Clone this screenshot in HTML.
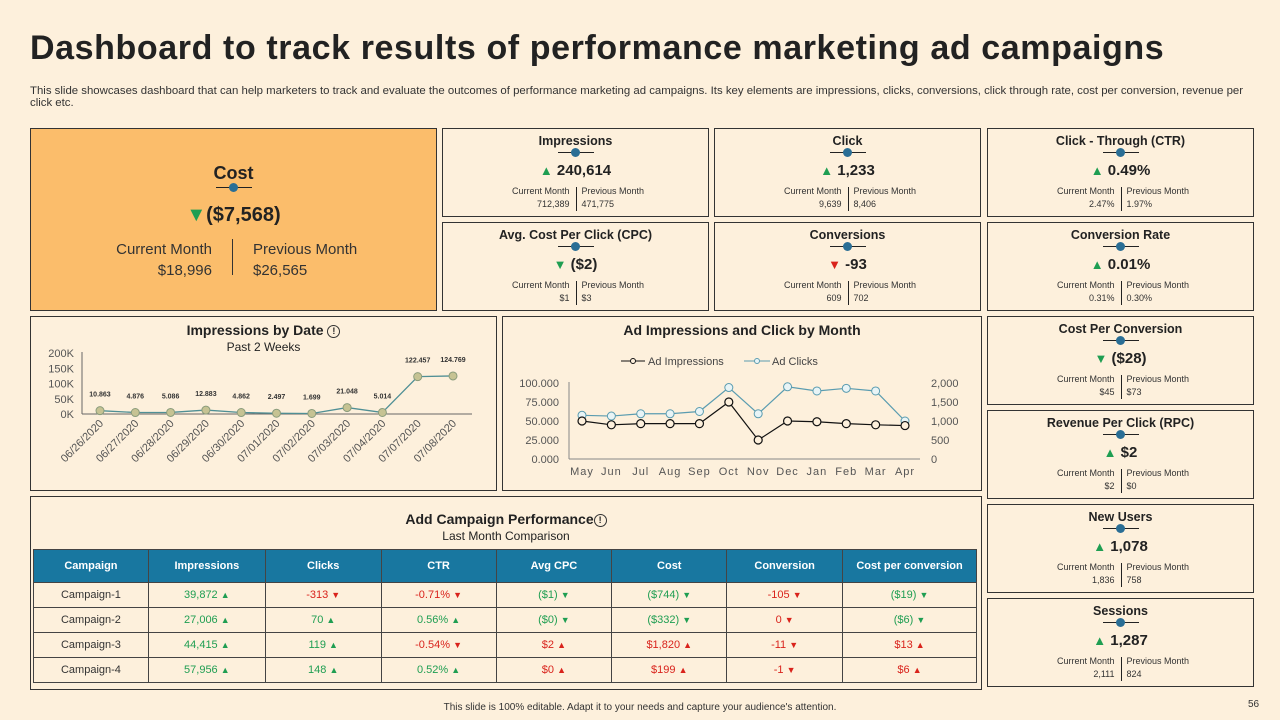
<!DOCTYPE html>
<html><head><meta charset="utf-8">
<style>
*{box-sizing:border-box;margin:0;padding:0}
body{width:1280px;height:720px;background:#fdf0dc;font-family:"Liberation Sans",sans-serif;color:#222;position:relative;overflow:hidden}
.abs{position:absolute}
h1{position:absolute;left:30px;top:29px;font-size:34px;font-weight:bold;letter-spacing:0.6px;color:#222}
.sub{left:30px;top:85px;width:1222px;font-size:11.4px;line-height:12px;color:#333}
.card{position:absolute;border:1.5px solid #333;background:#fdf0dc}
.card .t{position:absolute;left:0;right:0;top:5px;text-align:center;font-weight:bold;font-size:12.5px}
.card .dot{position:absolute;left:50%;top:23px;width:36px;margin-left:-18px;height:1px;background:#222}
.card .dot:after{content:"";position:absolute;left:13px;top:-4px;width:9px;height:9px;border-radius:50%;background:#2a6e95}
.card .v{position:absolute;left:0;right:0;top:33px;text-align:center;font-weight:bold;font-size:15px}
.card .cm,.card .pm{position:absolute;top:56px;font-size:9px;line-height:13px;color:#333}
.card .cm{right:50%;padding-right:6px;text-align:right}
.card .pm{left:50%;padding-left:6px}
.card .sep{position:absolute;left:50%;top:58px;width:1px;height:24px;background:#222}
.up{color:#1f9e52}.dn{color:#d9231c}
table{border-collapse:collapse;position:absolute;left:33px;top:549px;width:944px;font-size:11px}
th{background:#1877a0;color:#fff;height:33px;font-size:11px;border:1px solid #444}
td{height:25px;text-align:center;border:1px solid #444}
</style></head><body>
<h1>Dashboard to track results of performance marketing ad campaigns</h1>
<div class="abs sub">This slide showcases dashboard that can help marketers to track and evaluate the outcomes of performance marketing ad campaigns. Its key elements are impressions, clicks, conversions, click through rate, cost per conversion, revenue per click etc.</div>

<div class="card" style="left:30px;top:128px;width:407px;height:183px;background:#fbbd6b">
 <div class="t" style="top:34px;font-size:18px">Cost</div>
 <div class="dot" style="top:58px"></div>
 <div class="v" style="top:75px;font-size:20px"><span class="up">▼</span>($7,568)</div>
 <div class="abs" style="left:0;width:181px;top:110px;text-align:right;font-size:15px;line-height:21px;color:#333">Current Month<br>$18,996</div>
 <div class="abs" style="left:201px;top:110px;width:1px;height:36px;background:#333"></div>
 <div class="abs" style="left:222px;top:110px;font-size:15px;line-height:21px;color:#333">Previous Month<br>$26,565</div>
</div>
<div id="cards"></div>

<div class="card" style="left:30px;top:316px;width:467px;height:175px">
 <div class="t" style="font-size:14px">Impressions by Date <span style="display:inline-block;width:13px;height:13px;border:1px solid #333;border-radius:50%;font-size:9px;line-height:11px;vertical-align:1px">!</span></div>
 <div class="t" style="top:23px;font-weight:normal;font-size:12px">Past 2 Weeks</div>
</div>
<div class="card" style="left:502px;top:316px;width:480px;height:175px">
 <div class="t" style="font-size:14px">Ad Impressions and Click by Month</div>
</div>
<svg class="abs" style="left:0;top:0" width="1280" height="720" id="charts"></svg>

<div class="card" style="left:30px;top:496px;width:952px;height:194px">
 <div class="t" style="top:14px;font-size:14px">Add Campaign Performance<span style="display:inline-block;width:13px;height:13px;border:1px solid #333;border-radius:50%;font-size:9px;line-height:11px;vertical-align:1px">!</span></div>
 <div class="t" style="top:32px;font-weight:normal;font-size:12px">Last Month Comparison</div>
</div>
<table id="tbl"></table>

<div class="abs" style="left:0;width:1280px;top:702px;text-align:center;font-size:10px;color:#333">This slide is 100% editable. Adapt it to your needs and capture your audience's attention.</div>
<div class="abs" style="left:1248px;top:699px;font-size:10px;color:#333">56</div>

<script>
const cardsData=[
["Impressions","▲","240,614","712,389","471,775",442,128],
["Click","▲","1,233","9,639","8,406",714,128],
["Click - Through (CTR)","▲","0.49%","2.47%","1.97%",987,128],
["Avg. Cost Per Click (CPC)","▼g","($2)","$1","$3",442,222],
["Conversions","▼","-93","609","702",714,222],
["Conversion Rate","▲","0.01%","0.31%","0.30%",987,222],
["Cost Per Conversion","▼g","($28)","$45","$73",987,316],
["Revenue Per Click (RPC)","▲","$2","$2","$0",987,410],
["New Users","▲","1,078","1,836","758",987,504],
["Sessions","▲","1,287","2,111","824",987,598]];
const cw=document.getElementById('cards');
cardsData.forEach(c=>{
 const d=document.createElement('div');d.className='card';
 
 
 d.style.cssText=`left:${c[5]}px;top:${c[6]}px;width:267px;height:89px`;
 const cls=c[1]=='▲'||c[1]=='▼g'?'up':'dn';const ar=c[1][0];
 d.innerHTML=`<div class="t">${c[0]}</div><div class="dot"></div><div class="v"><span class="${cls}" style="font-size:13px">${ar}</span> ${c[2]}</div><div class="cm">Current Month<br>${c[3]}</div><div class="sep"></div><div class="pm">Previous Month<br>${c[4]}</div>`;
 cw.appendChild(d);
});

const hdr=["Campaign","Impressions","Clicks","CTR","Avg CPC","Cost","Conversion","Cost per conversion"];
const rows=[
["Campaign-1",["39,872","u"],["-313","d"],["-0.71%","d"],["($1)","g"],["($744)","g"],["-105","d"],["($19)","g"]],
["Campaign-2",["27,006","u"],["70","u"],["0.56%","u"],["($0)","g"],["($332)","g"],["0","d"],["($6)","g"]],
["Campaign-3",["44,415","u"],["119","u"],["-0.54%","d"],["$2","r"],["$1,820","r"],["-11","d"],["$13","r"]],
["Campaign-4",["57,956","u"],["148","u"],["0.52%","u"],["$0","r"],["$199","r"],["-1","d"],["$6","r"]]];
const colW=[115,117,116,115,116,115,116,134];
let h='<tr>'+hdr.map((x,i)=>`<th style="width:${colW[i]}px">${x}</th>`).join('')+'</tr>';
rows.forEach(r=>{h+='<tr><td style="color:#333">'+r[0]+'</td>';
 r.slice(1).forEach(c=>{const m={u:['up','▲'],d:['dn','▼'],g:['up','▼'],r:['dn','▲']}[c[1]];
 h+=`<td class="${m[0]}">${c[0]} <span style="font-size:9px">${m[1]}</span></td>`});h+='</tr>';});
document.getElementById('tbl').innerHTML=h;

const dates=["06/26/2020","06/27/2020","06/28/2020","06/29/2020","06/30/2020","07/01/2020","07/02/2020","07/03/2020","07/04/2020","07/07/2020","07/08/2020"];
const dateVals=[10863,4876,5086,12883,4862,2497,1699,21048,5014,122457,124769];
const dateLabels=["10.863","4.876","5.086","12.883","4.862","2.497","1.699","21.048","5.014","122.457","124.769"];
const yTicks1=[0,50000,100000,150000,200000];
const yTickLabels1=["0K","50K","100K","150K","200K"];
const months=["May","Jun","Jul","Aug","Sep","Oct","Nov","Dec","Jan","Feb","Mar","Apr"];
const adImpr=[50000,45000,46500,46500,46500,75000,25000,50000,49000,46500,45000,44000];
const adClicks=[1150,1130,1190,1190,1250,1880,1190,1900,1790,1860,1790,1000];
const lTicks=[0,25000,50000,75000,100000];
const lTickLabels=["0.000","25.000","50.000","75.000","100.000"];
const rTicks=[0,500,1000,1500,2000];
const rTickLabels=["0","500","1,000","1,500","2,000"];

const NS='http://www.w3.org/2000/svg',svg=document.getElementById('charts');
function el(t,a,txt){const e=document.createElementNS(NS,t);for(const k in a)e.setAttribute(k,a[k]);if(txt!=null)e.textContent=txt;svg.appendChild(e);return e;}

const x1=i=>100+i*(453-100)/(dates.length-1), y1=v=>414-v/200000*61;
el('line',{x1:82,y1:352,x2:82,y2:414,stroke:'#666'});
el('line',{x1:82,y1:414,x2:472,y2:414,stroke:'#666'});
yTicks1.forEach((t,i)=>{const e=el('text',{x:74,y:y1(t)+4,'text-anchor':'end','font-size':11,fill:'#555'},yTickLabels1[i]);});
el('polyline',{points:dateVals.map((v,i)=>x1(i)+','+y1(v)).join(' '),fill:'none',stroke:'#4f8f95','stroke-width':1.3});
dateVals.forEach((v,i)=>{
 const c=el('circle',{cx:x1(i),cy:y1(v),r:4,fill:'#c6c393',stroke:'#8a9c7c'});
 
 
 el('text',{x:x1(i),y:y1(v)-14,'text-anchor':'middle','font-size':7,'font-weight':'bold',fill:'#333'},dateLabels[i]);
 const tx=el('text',{x:x1(i)+4,y:424,'text-anchor':'end','font-size':11,fill:'#555',transform:`rotate(-45 ${x1(i)+4} 424)`},dates[i]);
 
 
});

const x2=i=>582+i*(905-582)/(months.length-1), yl=v=>459-v/100000*76, yr=v=>459-v/2000*76;
el('line',{x1:569,y1:382,x2:569,y2:459,stroke:'#888'});
el('line',{x1:569,y1:459,x2:920,y2:459,stroke:'#888'});
lTicks.forEach((t,i)=>el('text',{x:559,y:yl(t)+4,'text-anchor':'end','font-size':11,fill:'#555'},lTickLabels[i]));
rTicks.forEach((t,i)=>el('text',{x:931,y:yr(t)+4,'font-size':11,fill:'#555'},rTickLabels[i]));
months.forEach((m,i)=>el('text',{x:x2(i),y:475,'text-anchor':'middle','font-size':11,fill:'#555','letter-spacing':1},m));
el('polyline',{points:adClicks.map((v,i)=>x2(i)+','+yr(v)).join(' '),fill:'none',stroke:'#5a9cb0','stroke-width':1.2});
el('polyline',{points:adImpr.map((v,i)=>x2(i)+','+yl(v)).join(' '),fill:'none',stroke:'#111','stroke-width':1.2});
adClicks.forEach((v,i)=>{const c=el('circle',{cx:x2(i),cy:yr(v),r:4,fill:'#e8f4f6',stroke:'#5a9cb0'});});
adImpr.forEach((v,i)=>{const c=el('circle',{cx:x2(i),cy:yl(v),r:4,fill:'#fdf0dc',stroke:'#111','stroke-width':1.2});});
el('line',{x1:621,y1:361,x2:645,y2:361,stroke:'#111'});el('circle',{cx:633,cy:361,r:2.5,fill:'#fdf0dc',stroke:'#111'});
const lg1=el('text',{x:648,y:365,'font-size':11,fill:'#444'},'Ad Impressions');
el('line',{x1:744,y1:361,x2:770,y2:361,stroke:'#5a9cb0'});el('circle',{cx:757,cy:361,r:2.5,fill:'#e8f4f6',stroke:'#5a9cb0'});
const lg2=el('text',{x:772,y:365,'font-size':11,fill:'#444'},'Ad Clicks');
</script>
</body></html>
